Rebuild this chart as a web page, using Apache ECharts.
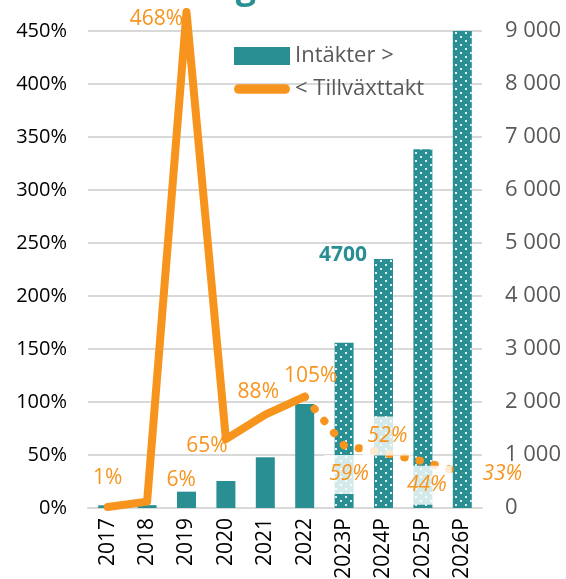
<!DOCTYPE html>
<html>
<head>
<meta charset="utf-8">
<script src="https://cdn.jsdelivr.net/npm/echarts@6/dist/echarts.min.js"></script>
<style>
html,body{margin:0;padding:0;background:#fff;}
#chart{width:566px;height:579px;}
</style>
</head>
<body>
<div id="chart"></div>
<script>
// ---- data ----
const categories = ['2017','2018','2019','2020','2021','2022','2023P','2024P','2025P','2026P'];
const revenue = [51, 54, 308, 509, 957, 1962, 3120, 4700, 6770, 9000];
const growthActual = [1, 6, 468, 65, 88, 105, null, null, null, null];
const growthForecast = [null, null, null, null, null, 105, 59, 52, 44, 33];
const pctTicks = [0, 450, 50];        // min, max, step (%)
const revTicks = [0, 9000, 1000];     // min, max, step
const highlightedRevenue = '2024P';
const titleText = 'Intäktsutveckling';

// ---- styling ----
const TEAL = '#298F93';
const ORANGE = '#F7941D';
const FONT = 'Open Sans';
const labelOffsets = {
  '2017': [0, -29], '2018': [34, -22], '2019': [-30, 7], '2020': [-19, 7],
  '2021': [-7, -23], '2022': [6, -21],
  '2023P': [5, 29], '2024P': [4, -17], '2025P': [4, 24], '2026P': [40, 1]
};
const decal = {
  symbol: 'rect', symbolSize: 1, color: 'rgba(255,255,255,0.85)',
  dashArrayX: [[2, 8], [0, 5, 2, 3]], dashArrayY: [2, 2], rotation: 0
};

const isForecast = c => /P$/.test(c);
const thousands = v => String(v).replace(/\B(?=(\d{3})+(?!\d))/g, ' ');

const barData = revenue.map((v, i) => {
  const item = { value: v };
  if (isForecast(categories[i])) item.itemStyle = { decal: decal };
  if (categories[i] === highlightedRevenue) {
    item.label = {
      show: true, position: [-31, -3.5], align: 'center', verticalAlign: 'middle',
      formatter: '{c}', fontFamily: FONT, fontWeight: 'bold', fontSize: 21, color: TEAL
    };
  }
  return item;
});

const actualData = growthActual.map((v, i) => ({
  value: v,
  label: { offset: labelOffsets[categories[i]] }
}));
const forecastData = growthForecast.map((v, i) => {
  const first = i === growthForecast.findIndex(x => x !== null);
  return {
    value: v,
    label: first ? { show: false } : {
      offset: labelOffsets[categories[i]], fontStyle: 'italic',
      backgroundColor: categories[i] === '2026P' ? 'transparent' : 'rgba(255,255,255,0.8)',
      padding: [9, 5]
    }
  };
});

const chart = echarts.init(document.getElementById('chart'), null, { renderer: 'canvas' });
chart.setOption({
  animation: false,
  textStyle: { fontFamily: FONT },
  graphic: [{
    type: 'text', x: 256, y: -30, silent: true,
    style: { text: titleText, font: 'bold 36px "' + FONT + '"', fill: TEAL, align: 'right', verticalAlign: 'top' }
  }],
  grid: { left: 88, right: 84, top: 31, bottom: 71, containLabel: false, outerBoundsMode: 'none' },
  legend: {
    orient: 'vertical', left: 234, top: 45, padding: 0, itemWidth: 56, itemHeight: 18, itemGap: 11,
    textStyle: { fontFamily: FONT, fontSize: 22, color: '#595959' },
    data: [
      { name: 'Intäkter >', icon: 'rect' },
      { name: '< Tillväxttakt', icon: 'path://M5,0H53A5,5 0 0 1 53,10H5A5,5 0 0 1 5,0Z', itemStyle: { color: ORANGE } }
    ]
  },
  xAxis: {
    type: 'category', data: categories, boundaryGap: true,
    axisLine: { lineStyle: { color: '#D9D9D9', width: 2 } },
    axisTick: { show: false },
    axisLabel: { rotate: 90, margin: 10, color: '#000', fontSize: 21, fontFamily: FONT, interval: 0 }
  },
  yAxis: [{
    type: 'value', min: pctTicks[0], max: pctTicks[1], interval: pctTicks[2],
    axisLine: { show: false }, axisTick: { show: false },
    splitLine: { lineStyle: { color: '#D9D9D9', width: 2 } },
    axisLabel: { formatter: '{value}%', color: '#000', fontSize: 20, margin: 21, fontFamily: FONT }
  }, {
    type: 'value', min: revTicks[0], max: revTicks[1], interval: revTicks[2],
    axisLine: { show: false }, axisTick: { show: false }, splitLine: { show: false },
    axisLabel: { formatter: v => thousands(v), color: '#595959', fontSize: 22, margin: 23, fontFamily: FONT }
  }],
  series: [{
    name: 'Intäkter >', type: 'bar', yAxisIndex: 1, barWidth: 19,
    itemStyle: { color: TEAL }, data: barData, z: 2
  }, {
    name: '< Tillväxttakt', type: 'line', yAxisIndex: 0, clip: false,
    symbol: 'circle', symbolSize: 1, showSymbol: true,
    itemStyle: { color: ORANGE },
    lineStyle: { color: ORANGE, width: 8, cap: 'round', join: 'round' },
    label: { show: true, position: 'inside', formatter: '{c}%', color: ORANGE, fontSize: 21, fontFamily: FONT },
    data: actualData, z: 4
  }, {
    name: '< Tillväxttakt', type: 'line', yAxisIndex: 0, clip: false,
    symbol: 'circle', symbolSize: 1, showSymbol: true,
    itemStyle: { color: ORANGE },
    lineStyle: { color: ORANGE, width: 8, type: [0.5, 15], cap: 'round', join: 'round' },
    label: { show: true, position: 'inside', formatter: '{c}%', color: ORANGE, fontSize: 21, fontFamily: FONT },
    data: forecastData, z: 3
  }]
});
</script>
</body>
</html>
